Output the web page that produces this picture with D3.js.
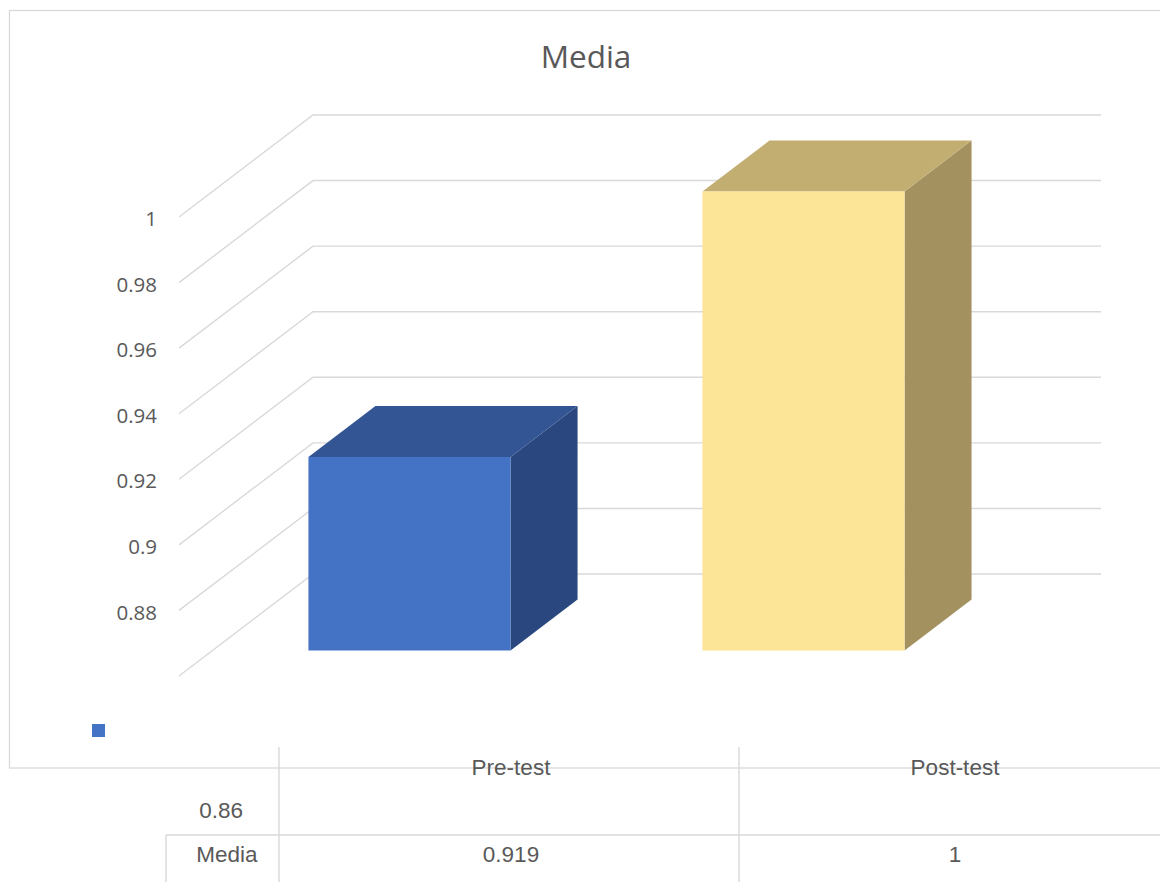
<!DOCTYPE html>
<html>
<head>
<meta charset="utf-8">
<script src="https://cdn.jsdelivr.net/npm/d3@7"></script>
<style>
  html, body { margin: 0; padding: 0; background: #fff; }
  svg { display: block; }
</style>
</head>
<body>
<svg id="chart" width="1160" height="882"></svg>
<script>
// ---- data ----
const title = "Media";
const categories = ["Pre-test", "Post-test"];
const seriesName = "Media";
const seriesValues = [0.919, 1];
const valueLabels = ["0.919", "1"];
const tickValues = [0.86, 0.88, 0.90, 0.92, 0.94, 0.96, 0.98, 1.0];
const tickLabels = ["0.86", "0.88", "0.9", "0.92", "0.94", "0.96", "0.98", "1"];
const frontColors = ["#4472C4", "#FDE598"];
const topColors = ["#345594", "#C3AE72"];
const sideColors = ["#2A487F", "#A39160"];

// ---- layout ----
const svg = d3.select("#chart");
const W = 1160, H = 882;
const depthX = 134, depthY = -102;      // full depth offset of the 3D box
const barD0 = 0.25, barD1 = 0.75;       // bar depth range
const grid = "#d9d9d9", textCol = "#595959";

const y = d3.scaleLinear().domain([0.86, 1.0]).range([676, 217]);
const x = d3.scaleBand().domain(categories).range([179, 967])
  .paddingInner(0.487).paddingOuter(0.2435);
const P = (px, v, d) => [px + d * depthX, y(v) + d * depthY];

// chart frame
svg.append("rect").attr("x", 9.5).attr("y", 10.5).attr("width", W).attr("height", 757.5)
  .attr("fill", "#fff").attr("stroke", grid).attr("stroke-width", 1.3);

// title
svg.append("text").attr("x", 586).attr("y", 68).attr("text-anchor", "middle")
  .attr("font-family", "Open Sans").attr("font-size", 31.5).attr("fill", textCol).text(title);

// gridlines (side wall diagonal + back wall horizontal)
const gG = svg.append("g").attr("stroke", grid).attr("stroke-width", 1.4).attr("fill", "none");
tickValues.forEach(v => {
  const a = P(179, v, 0), b = P(179, v, 1), c = P(967, v, 1);
  gG.append("path").attr("d", d3.line()([a, b, c]));
});

// tick labels
const tG = svg.append("g").attr("font-family", "Open Sans").attr("font-size", 20.5)
  .attr("fill", textCol).attr("text-anchor", "end");
tickValues.forEach((v, i) => {
  if (i === 0) {
    // Excel places the lowest label down in the data table area
    tG.append("text").attr("x", 243).attr("y", 818)
      .attr("font-family", "Liberation Sans").attr("font-size", 22.5).text(tickLabels[i]);
  } else {
    tG.append("text").attr("x", 157).attr("y", y(v) + 2).attr("dy", "0.35em").text(tickLabels[i]);
  }
});

// bars
const bG = svg.append("g");
categories.forEach((c, i) => {
  const x0 = x(c), x1 = x(c) + x.bandwidth();
  const v = seriesValues[i], base = 0.86;
  const f = [P(x0, base, barD0), P(x1, base, barD0), P(x1, v, barD0), P(x0, v, barD0)];
  const t = [P(x0, v, barD0), P(x1, v, barD0), P(x1, v, barD1), P(x0, v, barD1)];
  const s = [P(x1, base, barD0), P(x1, base, barD1), P(x1, v, barD1), P(x1, v, barD0)];
  const poly = pts => "M" + pts.map(p => p.join(",")).join("L") + "Z";
  bG.append("path").attr("d", poly(s)).attr("fill", sideColors[i]);
  bG.append("path").attr("d", poly(t)).attr("fill", topColors[i]);
  bG.append("path").attr("d", poly(f)).attr("fill", frontColors[i]);
});

// legend key marker
svg.append("rect").attr("x", 92).attr("y", 724).attr("width", 13).attr("height", 13)
  .attr("fill", frontColors[0]);

// data table
const tbl = svg.append("g").attr("stroke", grid).attr("stroke-width", 1.4);
tbl.append("line").attr("x1", 166).attr("x2", W).attr("y1", 835).attr("y2", 835);
tbl.append("line").attr("x1", 166).attr("x2", 166).attr("y1", 835).attr("y2", H);
const colEdges = [279, 739];
colEdges.forEach(cx => tbl.append("line").attr("x1", cx).attr("x2", cx).attr("y1", 747).attr("y2", H));

const colCenters = [511, 955];
const tt = svg.append("g").attr("font-family", "Liberation Sans").attr("font-size", 22.5)
  .attr("fill", textCol).attr("text-anchor", "middle");
categories.forEach((c, i) => {
  tt.append("text").attr("x", colCenters[i]).attr("y", 775).text(c);
  tt.append("text").attr("x", colCenters[i]).attr("y", 862).text(valueLabels[i]);
});
tt.append("text").attr("x", 227).attr("y", 862).text(seriesName);
</script>
</body>
</html>
